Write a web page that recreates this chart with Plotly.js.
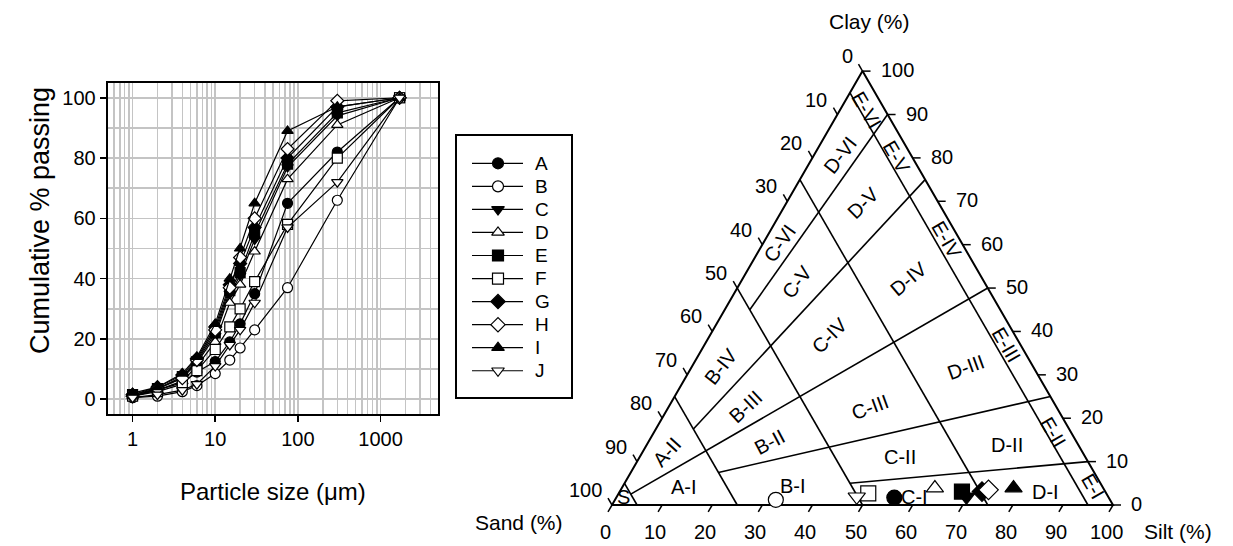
<!DOCTYPE html>
<html>
<head>
<meta charset="utf-8">
<script src="https://cdn.plot.ly/plotly-3.0.1.min.js"></script>
<style>
  html, body { margin: 0; padding: 0; background: #ffffff; }
  #chart { width: 1233px; height: 546px; }
</style>
</head>
<body>
<div id="chart"></div>
<script>
// ---------- grain-size data (cumulative % passing) ----------
const particleSizes = [1, 2, 4, 6, 10, 15, 20, 30, 75, 300, 1700];
const sampleNames = ['A', 'B', 'C', 'D', 'E', 'F', 'G', 'H', 'I', 'J'];
const passA = [1, 3, 5.5, 9, 12.5, 19, 25, 35, 65, 82, 100];
const passB = [0.5, 1, 2.5, 4.5, 8.5, 13, 17, 23, 37, 66, 100];
const passC = [1, 3.5, 7, 12, 21, 35, 41, 53, 77, 94, 100];
const passD = [1, 3, 6, 11, 19, 32, 38, 49, 73, 91, 100];
const passE = [1.5, 3.5, 7.5, 12.5, 22, 36, 42, 55, 78, 95, 100];
const passF = [1, 2.5, 5, 9.5, 16.5, 24, 30, 39, 58, 80, 100];
const passG = [1.5, 4, 8, 13.5, 24, 38, 45, 57, 80, 97, 100];
const passH = [1, 3.5, 7, 13, 23, 37, 47, 60, 83, 99, 100];
const passI = [2, 4, 8.5, 14, 25, 40, 50, 65, 89, 97, 100];
const passJ = [0.5, 1.5, 3, 5, 11, 18, 23, 32, 57, 72, 100];
const xTickVals = [1, 10, 100, 1000];
const yTickVals = [0, 20, 40, 60, 80, 100];

// ---------- texture of each sample (silt %, clay %; sand is the rest) ----------
const ternSilt = [55.5, 32.1, 69.8, 62.5, 68.3, 49.8, 72.3, 73.4, 78.2, 47.9];
const ternClay = [1.7, 1.2, 1.9, 3.9, 3.1, 2.7, 3.1, 3.5, 3.9, 1.9];

// ---------- classification scheme ----------
const sandBounds = [95, 75, 50, 25, 5];           // lines of constant sand %
// mud-ratio boundaries: [silt, clay] at start and end
const ratioStartSilt = [45, 17.5, 2.5, 7.5, 5];
const ratioStartClay = [5, 7.5, 2.5, 17.5, 45];
const ratioEndSilt = [90, 75, 50, 25, 10];
const ratioEndClay = [10, 25, 50, 75, 90];
const zoneNames = ['S', 'A-I', 'A-II', 'B-I', 'B-II', 'B-III', 'B-IV',
  'C-I', 'C-II', 'C-III', 'C-IV', 'C-V', 'C-VI',
  'D-I', 'D-II', 'D-III', 'D-IV', 'D-V', 'D-VI',
  'E-I', 'E-II', 'E-III', 'E-IV', 'E-V', 'E-VI'];
const ternTickVals = [0, 10, 20, 30, 40, 50, 60, 70, 80, 90, 100];

// ---------- styling ----------
const FONT = 'Liberation Sans, Arial, Helvetica, sans-serif';
const sampleStyle = {
  A: ['circle', 'black'], B: ['circle', 'white'],
  C: ['triangle-down', 'black'], D: ['triangle-up', 'white'],
  E: ['square', 'black'], F: ['square', 'white'],
  G: ['diamond', 'black'], H: ['diamond', 'white'],
  I: ['triangle-up', 'black'], J: ['triangle-down', 'white']
};
// label placement for each zone: [silt, clay, angle]
const zonePlace = {
  'S': [1.4, 1.8, 0], 'A-I': [12.3, 4.15, 0], 'A-II': [4.8, 12.3, -48],
  'B-I': [33.9, 4.4, 0], 'B-II': [24.2, 14.6, -28], 'B-III': [15.2, 22.7, -43], 'B-IV': [5.8, 32.0, -52],
  'C-I': [59.5, 1.9, 0], 'C-II': [51.9, 11.1, 0], 'C-III': [40.2, 22.7, -20], 'C-IV': [23.9, 39.2, -45],
  'C-V': [11.1, 51.5, -53], 'C-VI': [3.4, 60.3, -55],
  'D-I': [84.9, 3.1, 0], 'D-II': [71.9, 13.8, 0], 'D-III': [54.8, 31.8, -20], 'D-IV': [33.0, 52.2, -40],
  'D-V': [15.4, 69.5, -45], 'D-VI': [5.2, 80.7, -52],
  'E-I': [94.0, 4.2, 60], 'E-II': [79.6, 16.9, 60], 'E-III': [60.3, 36.9, 60],
  'E-IV': [36.3, 61.1, 60], 'E-V': [16.7, 80.3, 60], 'E-VI': [5.3, 91.0, 60]
};

const passing = { A: passA, B: passB, C: passC, D: passD, E: passE,
                  F: passF, G: passG, H: passH, I: passI, J: passJ };

const H3 = Math.sqrt(3) / 2;
// ternary (silt, clay) -> cartesian position inside an equilateral triangle
function tern(si, cl) { return [si + cl / 2, cl * H3]; }

const traces = [];

// grain-size curves
sampleNames.forEach(n => {
  const st = sampleStyle[n];
  traces.push({
    type: 'scatter', mode: 'lines+markers', xaxis: 'x', yaxis: 'y',
    x: particleSizes, y: passing[n], name: n, showlegend: false,
    line: { color: 'black', width: 1.2 },
    marker: { symbol: st[0], color: st[1], size: 10, line: { color: 'black', width: 1.2 } },
    cliponaxis: false, hoverinfo: 'skip'
  });
});

// key: one short line + marker per sample
const keyX0 = 15, keyX1 = 66, keyXm = 41, keyRow0 = 27.3, keyStep = 23.05;
const keyLineX = [], keyLineY = [], keyMarkX = [], keyMarkY = [];
sampleNames.forEach((n, i) => {
  const yy = keyRow0 + keyStep * i;
  keyLineX.push(keyX0, keyX1, null); keyLineY.push(yy, yy, null);
  keyMarkX.push(keyXm); keyMarkY.push(yy);
});
traces.push({
  type: 'scatter', mode: 'lines', xaxis: 'x3', yaxis: 'y3', x: keyLineX, y: keyLineY,
  line: { color: 'black', width: 1.2 }, showlegend: false, hoverinfo: 'skip'
});
traces.push({
  type: 'scatter', mode: 'markers', xaxis: 'x3', yaxis: 'y3', x: keyMarkX, y: keyMarkY,
  marker: { symbol: sampleNames.map(n => sampleStyle[n][0]), color: sampleNames.map(n => sampleStyle[n][1]),
            size: 11, line: { color: 'black', width: 1.2 } },
  showlegend: false, hoverinfo: 'skip', cliponaxis: false
});

// ternary frame
const corners = [tern(0, 0), tern(100, 0), tern(0, 100), tern(0, 0)];
traces.push({
  type: 'scatter', mode: 'lines', xaxis: 'x2', yaxis: 'y2',
  x: corners.map(p => p[0]), y: corners.map(p => p[1]),
  line: { color: 'black', width: 2 }, showlegend: false, hoverinfo: 'skip', cliponaxis: false
});

// classification boundaries
const bx = [], by = [];
sandBounds.forEach(s => {
  const p = tern(100 - s, 0), q = tern(0, 100 - s);
  bx.push(p[0], q[0], null); by.push(p[1], q[1], null);
});
ratioStartSilt.forEach((s0, i) => {
  const p = tern(s0, ratioStartClay[i]), q = tern(ratioEndSilt[i], ratioEndClay[i]);
  bx.push(p[0], q[0], null); by.push(p[1], q[1], null);
});
traces.push({
  type: 'scatter', mode: 'lines', xaxis: 'x2', yaxis: 'y2', x: bx, y: by,
  line: { color: 'black', width: 1.6 }, showlegend: false, hoverinfo: 'skip', cliponaxis: false
});

// ternary tick marks
const TL = 1.6;
const tx = [], ty = [];
ternTickVals.forEach(v => {
  // sand axis (left side): ticks point up-left
  let p = tern(0, 100 - v);
  tx.push(p[0], p[0] - 0.5 * TL, null); ty.push(p[1], p[1] + H3 * TL, null);
  // silt axis (base): ticks point down-left
  p = tern(v, 0);
  tx.push(p[0], p[0] - 0.5 * TL, null); ty.push(p[1], p[1] - H3 * TL, null);
  // clay axis (right side): ticks point right
  p = tern(100 - v, v);
  tx.push(p[0], p[0] + TL, null); ty.push(p[1], p[1], null);
});
traces.push({
  type: 'scatter', mode: 'lines', xaxis: 'x2', yaxis: 'y2', x: tx, y: ty,
  line: { color: 'black', width: 1.5 }, showlegend: false, hoverinfo: 'skip', cliponaxis: false
});

// samples in the ternary diagram
const sp = ternSilt.map((s, i) => tern(s, ternClay[i]));
traces.push({
  type: 'scatter', mode: 'markers', xaxis: 'x2', yaxis: 'y2',
  x: sp.map(p => p[0]), y: sp.map(p => p[1]), text: sampleNames,
  marker: { symbol: sampleNames.map(n => sampleStyle[n][0]), color: sampleNames.map(n => sampleStyle[n][1]),
            size: 15, line: { color: 'black', width: 1.2 } },
  showlegend: false, hoverinfo: 'text', cliponaxis: false
});

// ---------- annotations ----------
const ann = [];
const tf = { family: FONT, size: 20, color: 'black' };
ternTickVals.forEach(v => {
  let p = tern(0, 100 - v);
  ann.push({ xref: 'x2', yref: 'y2', x: p[0], y: p[1], text: String(v), showarrow: false,
    xanchor: 'right', yanchor: 'middle', xshift: -8, yshift: 15, font: tf });
  p = tern(v, 0);
  ann.push({ xref: 'x2', yref: 'y2', x: p[0], y: p[1], text: String(v), showarrow: false,
    xanchor: 'center', yanchor: 'middle', xshift: -7, yshift: -27, font: tf });
  p = tern(100 - v, v);
  ann.push({ xref: 'x2', yref: 'y2', x: p[0], y: p[1], text: String(v), showarrow: false,
    xanchor: 'left', yanchor: 'middle', xshift: 16, yshift: 1, font: tf });
});
zoneNames.forEach(z => {
  const pl = zonePlace[z];
  const p = tern(pl[0], pl[1]);
  ann.push({ xref: 'x2', yref: 'y2', x: p[0], y: p[1], text: z, showarrow: false,
    textangle: pl[2], xanchor: 'center', yanchor: 'middle', font: tf });
});
ann.push({ xref: 'paper', yref: 'paper', x: 869 / 1233, y: 1 - 22 / 546, text: 'Clay (%)',
  showarrow: false, xanchor: 'center', yanchor: 'middle', font: { family: FONT, size: 21, color: 'black' } });
ann.push({ xref: 'paper', yref: 'paper', x: 519 / 1233, y: 1 - 522 / 546, text: 'Sand (%)',
  showarrow: false, xanchor: 'center', yanchor: 'middle', font: { family: FONT, size: 21, color: 'black' } });
ann.push({ xref: 'paper', yref: 'paper', x: 1178 / 1233, y: 1 - 531 / 546, text: 'Silt (%)',
  showarrow: false, xanchor: 'center', yanchor: 'middle', font: { family: FONT, size: 21, color: 'black' } });
// titles of the grain-size chart
ann.push({ xref: 'paper', yref: 'paper', x: 273 / 1233, y: 1 - 491 / 546, text: 'Particle size (μm)',
  showarrow: false, xanchor: 'center', yanchor: 'middle', font: { family: FONT, size: 24, color: 'black' } });
ann.push({ xref: 'paper', yref: 'paper', x: 40 / 1233, y: 1 - 221 / 546, text: 'Cumulative % passing',
  showarrow: false, textangle: -90, xanchor: 'center', yanchor: 'middle',
  font: { family: FONT, size: 27, color: 'black' } });
sampleNames.forEach((n, i) => {
  ann.push({ xref: 'x3', yref: 'y3', x: 76, y: keyRow0 + keyStep * i, text: n, showarrow: false,
    xanchor: 'left', yanchor: 'middle', font: { family: FONT, size: 19, color: 'black' } });
});

// ---------- layout ----------
const minorLog = [];
[0.1, 1, 10, 100, 1000].forEach(d => { for (let k = 2; k <= 9; k++) minorLog.push(k * d); });

const layout = {
  width: 1233, height: 546,
  margin: { l: 0, r: 0, t: 0, b: 0 },
  paper_bgcolor: 'white', plot_bgcolor: 'rgba(0,0,0,0)',
  font: { family: FONT, color: 'black', size: 20 },
  showlegend: false,
  xaxis: {
    type: 'log', domain: [107.7 / 1233, 438.3 / 1233], anchor: 'y',
    range: [Math.log10(0.5), Math.log10(5000)],
    tickmode: 'array', tickvals: xTickVals, ticktext: xTickVals.map(String),
    ticks: 'outside', ticklen: 6, tickwidth: 1.5, tickcolor: 'black',
    showline: true, mirror: true, linecolor: 'black', linewidth: 2,
    showgrid: true, gridcolor: '#c4c4c4', gridwidth: 1.5,
    minor: { tickmode: 'array', tickvals: minorLog, showgrid: true, gridcolor: '#c4c4c4', gridwidth: 1.5, ticks: '' },
    tickfont: { family: FONT, size: 20 },
    zeroline: false, fixedrange: true
  },
  yaxis: {
    domain: [(546 - 414.3) / 546, (546 - 82.7) / 546], anchor: 'x',
    range: [-5, 105],
    tickmode: 'array', tickvals: yTickVals,
    ticks: 'outside', ticklen: 6, tickwidth: 1.5, tickcolor: 'black',
    showline: true, mirror: true, linecolor: 'black', linewidth: 2,
    showgrid: true, gridcolor: '#c4c4c4', gridwidth: 1.5,
    minor: { tick0: 0, dtick: 10, showgrid: true, gridcolor: '#c4c4c4', gridwidth: 1.5, ticks: '' },
    tickfont: { family: FONT, size: 20 },
    zeroline: false, fixedrange: true
  },
  xaxis2: {
    domain: [561.9 / 1233, 1163.1 / 1233], anchor: 'y2', range: [-10, 110],
    visible: false, fixedrange: true
  },
  yaxis2: {
    domain: [(546 - 545.08) / 546, (546 - 29.05) / 546], anchor: 'x2', range: [-8, 95],
    visible: false, fixedrange: true
  },
  xaxis3: {
    domain: [457 / 1233, 571 / 1233], anchor: 'y3', range: [0, 114],
    showline: true, mirror: true, linecolor: 'black', linewidth: 2,
    showgrid: false, zeroline: false, showticklabels: false, ticks: '', fixedrange: true
  },
  yaxis3: {
    domain: [(546 - 397) / 546, (546 - 136) / 546], anchor: 'x3', range: [261, 0],
    showline: true, mirror: true, linecolor: 'black', linewidth: 2,
    showgrid: false, zeroline: false, showticklabels: false, ticks: '', fixedrange: true
  },
  annotations: ann
};

Plotly.newPlot('chart', traces, layout, { displayModeBar: false, staticPlot: true });
</script>
</body>
</html>
